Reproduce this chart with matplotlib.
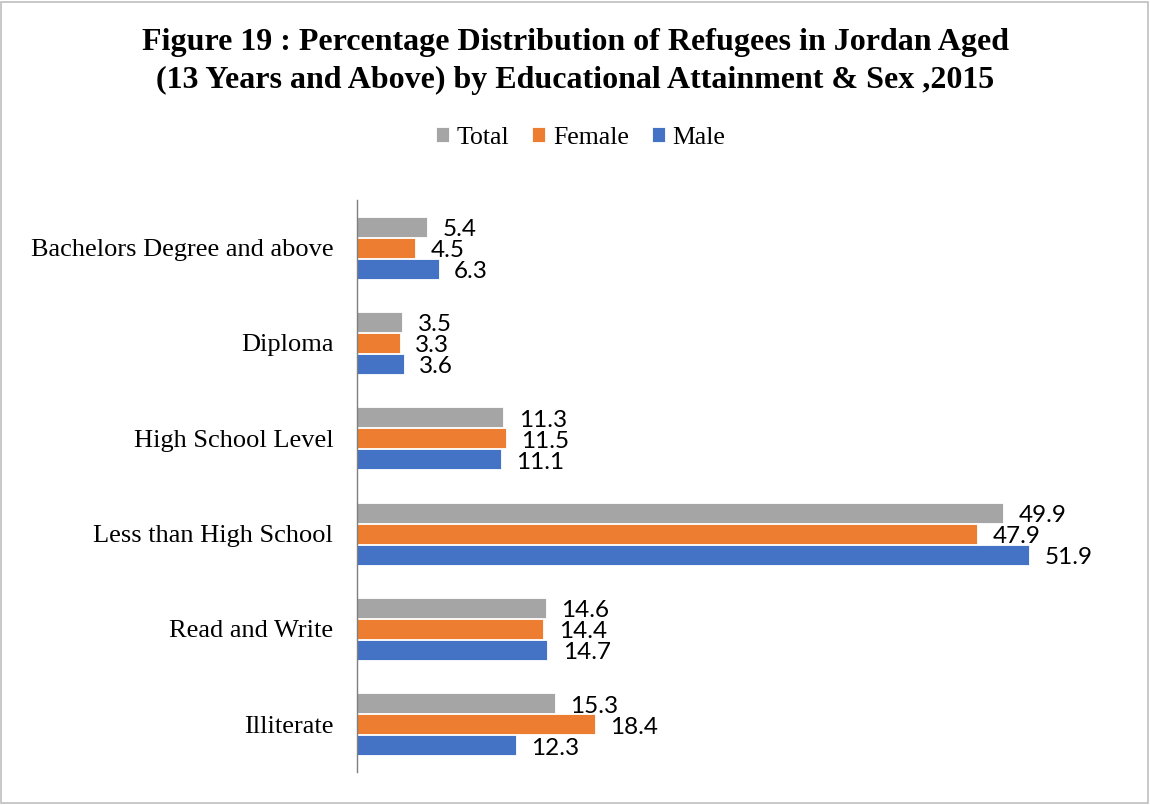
import matplotlib.pyplot as plt
from matplotlib.patches import Rectangle
import numpy as np

# Data (top to bottom as listed in the chart)
categories = ['Bachelors Degree and above', 'Diploma', 'High School Level',
              'Less than High School', 'Read and Write', 'Illiterate']
total = [5.4, 3.5, 11.3, 49.9, 14.6, 15.3]
female = [4.5, 3.3, 11.5, 47.9, 14.4, 18.4]
male = [6.3, 3.6, 11.1, 51.9, 14.7, 12.3]

series = [('Total', total, '#A5A5A5'),
          ('Female', female, '#ED7D31'),
          ('Male', male, '#4472C4')]

serif = 'Liberation Serif'
label_font = 'Lato'

fig = plt.figure(figsize=(11.5, 8.05), dpi=100)
ax = fig.add_axes([0.3104, 0.041, 0.6757, 0.7106])

# first category at the top
y = np.arange(len(categories))[::-1]
bar_h = 0.21
offsets = [0.22, 0.0, -0.22]

for (name, vals, color), off in zip(series, offsets):
    bars = ax.barh(y + off, vals, height=bar_h, color=color, label=name,
                   edgecolor='white', linewidth=0.6)
    for b, v in zip(bars, vals):
        ax.annotate(f'{v:.1f}', xy=(b.get_width(), b.get_y() + b.get_height() / 2),
                    xytext=(11, -2), textcoords='offset points',
                    ha='left', va='center', fontsize=17.5, family=label_font,
                    color='black')

ax.set_xlim(0, 60)
ax.set_ylim(-0.5, len(categories) - 0.5)
ax.set_yticks(y)
ax.set_yticklabels(categories, fontsize=19, family=serif)
ax.tick_params(axis='y', length=0, pad=17)
ax.set_xticks([])

for s in ['top', 'right', 'bottom']:
    ax.spines[s].set_visible(False)
ax.spines['left'].set_color('#7F7F7F')
ax.spines['left'].set_linewidth(1.0)

fig.text(0.5, 0.947, 'Figure 19 : Percentage Distribution of Refugees in Jordan Aged',
         ha='center', va='center', fontsize=23, fontweight='bold', family=serif)
fig.text(0.5, 0.900, '(13 Years and Above) by Educational Attainment & Sex ,2015',
         ha='center', va='center', fontsize=23, fontweight='bold', family=serif)

fig.legend(loc='center', bbox_to_anchor=(0.505, 0.829), ncol=3, frameon=False,
           prop={'family': serif, 'size': 18.5}, handlelength=0.5, handleheight=0.5,
           handletextpad=0.3, columnspacing=0.9)

# thin grey border around the chart area
fig.patches.append(Rectangle((0.001, 0.002), 0.997, 0.996, transform=fig.transFigure,
                             fill=False, edgecolor='#BFBFBF', linewidth=1.2))

fig.savefig('out.png', dpi=100)
